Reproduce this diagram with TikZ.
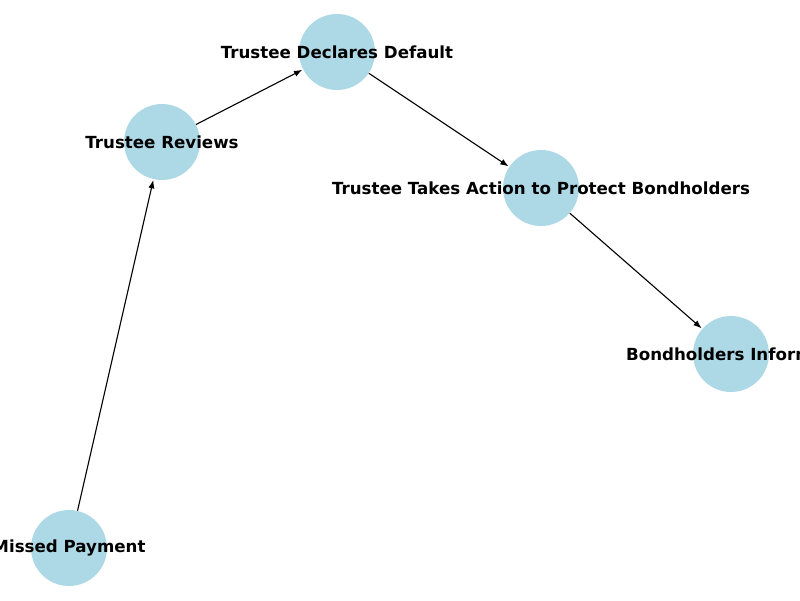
\documentclass[tikz,border=0pt]{standalone}
\usepackage{fontspec}
\setmainfont{DejaVu Sans}
\usetikzlibrary{arrows.meta}
\definecolor{nodeblue}{HTML}{ADD8E6}
\begin{document}
\begin{tikzpicture}[x=0.72pt,y=-0.72pt,
  gnode/.style={circle,fill=nodeblue,draw=none,minimum size=54.7pt,inner sep=0pt},
  glabel/.style={font=\bfseries\fontsize{12pt}{14pt}\selectfont,text=black},
  garrow/.style={-{Latex[length=6pt,width=4.5pt]},line width=0.8pt,black,shorten >=0.5pt}]
\useasboundingbox (0,0) rectangle (800,600);
\clip (0,0) rectangle (800,600);
\fill[white] (0,0) rectangle (800,600);
\node[gnode,label={[glabel]center:Missed Payment}] (mp) at (69,548) {};
\node[gnode,label={[glabel]center:Trustee Reviews}] (tr) at (162,142) {};
\node[gnode,label={[glabel]center:Trustee Declares Default}] (td) at (337,52) {};
\node[gnode,label={[glabel]center:Trustee Takes Action to Protect Bondholders}] (ta) at (541,188) {};
\node[gnode,label={[glabel]center:Bondholders Informed}] (bi) at (731,354) {};
\draw[garrow] (mp) -- (tr);
\draw[garrow] (tr) -- (td);
\draw[garrow] (td) -- (ta);
\draw[garrow] (ta) -- (bi);
\end{tikzpicture}
\end{document}
